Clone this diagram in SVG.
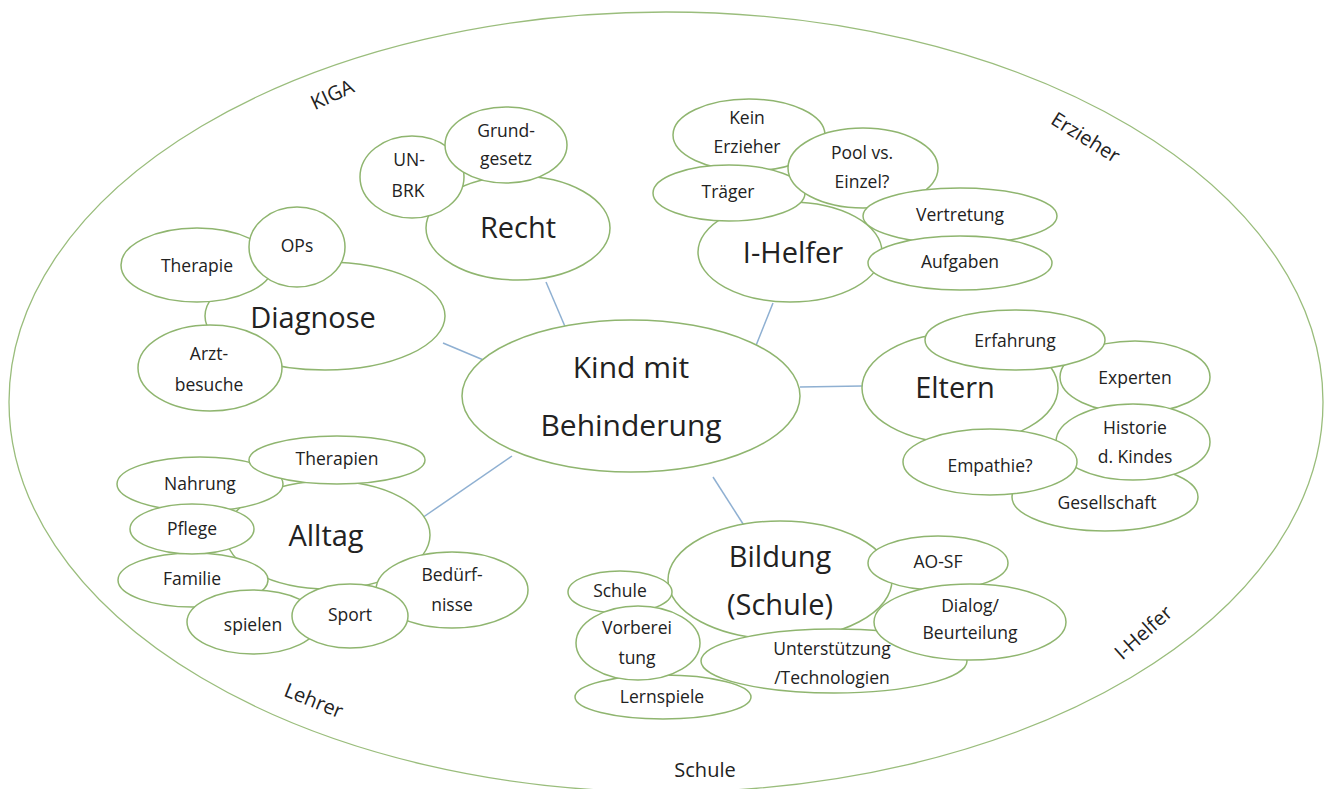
<svg xmlns="http://www.w3.org/2000/svg" width="1331" height="789" viewBox="0 0 1331 789">
<style>
  .n { fill: #ffffff; stroke: #8fb56f; stroke-width: 1.5; }
  .o { fill: none; stroke: #9abd7c; stroke-width: 1.3; }
  .c { stroke: #8fb0d2; stroke-width: 1.5; fill: none; }
  text { font-family: "Open Sans", "Liberation Sans", sans-serif; fill: #222222; text-anchor: middle; dominant-baseline: central; }
  .big { font-size: 29px; }
  .ctr { font-size: 30px; }
  .sm { font-size: 17.5px; }
  .out { font-size: 20px; }
</style>
<rect width="1331" height="789" fill="#ffffff"/>
<ellipse class="o" cx="666" cy="402" rx="657" ry="390"/>
<g id="outer-labels">
  <text class="out" x="332" y="94" transform="rotate(-25 332 94)">KIGA</text>
  <text class="out" x="1086" y="137" transform="rotate(32 1086 137)">Erzieher</text>
  <text class="out" x="1143" y="632" transform="rotate(-42 1143 632)">I-Helfer</text>
  <text class="out" x="314" y="700" transform="rotate(22 314 700)">Lehrer</text>
  <text class="out" x="705" y="769">Schule</text>
</g>
<g id="connectors">
  <line class="c" x1="546" y1="282" x2="578" y2="357"/>
  <line class="c" x1="443" y1="343" x2="512" y2="372"/>
  <line class="c" x1="773" y1="303" x2="751" y2="358"/>
  <line class="c" x1="800" y1="387" x2="862" y2="386"/>
  <line class="c" x1="422" y1="518" x2="512" y2="456"/>
  <line class="c" x1="713" y1="477" x2="745" y2="527"/>
</g>
<g id="center">
  <ellipse class="n" cx="631" cy="396" rx="169" ry="76"/>
  <text class="ctr" x="631" y="366">Kind mit</text>
  <text class="ctr" x="631" y="424">Behinderung</text>
</g>
<g id="recht">
  <ellipse class="n" cx="518" cy="228" rx="92" ry="52"/>
  <text class="big" x="518" y="226">Recht</text>
</g>
<g id="un-brk">
  <ellipse class="n" cx="412" cy="177" rx="52" ry="41"/>
  <text class="sm" x="409" y="159">UN-</text>
  <text class="sm" x="408" y="190">BRK</text>
</g>
<g id="grundgesetz">
  <ellipse class="n" cx="506" cy="145" rx="61" ry="38"/>
  <text class="sm" x="506" y="130">Grund-</text>
  <text class="sm" x="506" y="158">gesetz</text>
</g>
<g id="diagnose">
  <ellipse class="n" cx="325" cy="316" rx="120" ry="54"/>
  <text class="big" x="313" y="316">Diagnose</text>
</g>
<g id="therapie">
  <ellipse class="n" cx="197" cy="265" rx="76" ry="37"/>
  <text class="sm" x="197" y="265">Therapie</text>
</g>
<g id="ops">
  <ellipse class="n" cx="297" cy="247" rx="48" ry="40"/>
  <text class="sm" x="297" y="245">OPs</text>
</g>
<g id="arztbesuche">
  <ellipse class="n" cx="210" cy="368" rx="72" ry="43"/>
  <text class="sm" x="209" y="353">Arzt-</text>
  <text class="sm" x="209" y="384">besuche</text>
</g>
<g id="i-helfer">
  <ellipse class="n" cx="790" cy="252" rx="92" ry="50"/>
  <text class="big" x="793" y="251">I-Helfer</text>
</g>
<g id="kein-erzieher">
  <ellipse class="n" cx="749" cy="135" rx="76" ry="36"/>
  <text class="sm" x="747" y="117">Kein</text>
  <text class="sm" x="747" y="146">Erzieher</text>
</g>
<g id="traeger">
  <ellipse class="n" cx="729" cy="193" rx="76" ry="28"/>
  <text class="sm" x="728" y="191">Träger</text>
</g>
<g id="pool">
  <ellipse class="n" cx="863" cy="168" rx="75" ry="40"/>
  <text class="sm" x="862" y="152">Pool vs.</text>
  <text class="sm" x="862" y="181">Einzel?</text>
</g>
<g id="vertretung">
  <ellipse class="n" cx="960" cy="216" rx="97" ry="28"/>
  <text class="sm" x="960" y="214">Vertretung</text>
</g>
<g id="aufgaben">
  <ellipse class="n" cx="960" cy="263" rx="92" ry="27"/>
  <text class="sm" x="960" y="261">Aufgaben</text>
</g>
<g id="eltern">
  <ellipse class="n" cx="960" cy="388" rx="98" ry="55"/>
  <text class="big" x="955" y="386">Eltern</text>
</g>
<g id="experten">
  <ellipse class="n" cx="1135" cy="377" rx="75" ry="36"/>
  <text class="sm" x="1135" y="377">Experten</text>
</g>
<g id="erfahrung">
  <ellipse class="n" cx="1015" cy="340" rx="90" ry="30"/>
  <text class="sm" x="1015" y="340">Erfahrung</text>
</g>
<g id="gesellschaft">
  <ellipse class="n" cx="1105" cy="497" rx="93" ry="34"/>
  <text class="sm" x="1107" y="502">Gesellschaft</text>
</g>
<g id="historie">
  <ellipse class="n" cx="1133" cy="442" rx="77" ry="38"/>
  <text class="sm" x="1135" y="427">Historie</text>
  <text class="sm" x="1135" y="456">d. Kindes</text>
</g>
<g id="empathie">
  <ellipse class="n" cx="990" cy="462" rx="87" ry="33"/>
  <text class="sm" x="990" y="465">Empathie?</text>
</g>
<g id="alltag">
  <ellipse class="n" cx="328" cy="535" rx="102" ry="54"/>
  <text class="big" x="326" y="534">Alltag</text>
</g>
<g id="nahrung">
  <ellipse class="n" cx="200" cy="484" rx="83" ry="27"/>
  <text class="sm" x="200" y="483">Nahrung</text>
</g>
<g id="therapien">
  <ellipse class="n" cx="337" cy="460" rx="88" ry="24"/>
  <text class="sm" x="337" y="458">Therapien</text>
</g>
<g id="familie">
  <ellipse class="n" cx="193" cy="580" rx="75" ry="27"/>
  <text class="sm" x="192" y="578">Familie</text>
</g>
<g id="pflege">
  <ellipse class="n" cx="192" cy="529" rx="62" ry="25"/>
  <text class="sm" x="192" y="528">Pflege</text>
</g>
<g id="beduerfnisse">
  <ellipse class="n" cx="452" cy="590" rx="76" ry="38"/>
  <text class="sm" x="452" y="574">Bedürf-</text>
  <text class="sm" x="452" y="604">nisse</text>
</g>
<g id="spielen">
  <ellipse class="n" cx="253" cy="622" rx="66" ry="32"/>
  <text class="sm" x="253" y="624">spielen</text>
</g>
<g id="sport">
  <ellipse class="n" cx="350" cy="616" rx="58" ry="32"/>
  <text class="sm" x="350" y="614">Sport</text>
</g>
<g id="bildung">
  <ellipse class="n" cx="780" cy="580" rx="112" ry="59"/>
  <text class="big" x="780" y="555">Bildung</text>
  <text class="big" x="780" y="603">(Schule)</text>
</g>
<g id="ao-sf">
  <ellipse class="n" cx="938" cy="563" rx="70" ry="27"/>
  <text class="sm" x="938" y="561">AO-SF</text>
</g>
<g id="schule">
  <ellipse class="n" cx="620" cy="592" rx="52" ry="21"/>
  <text class="sm" x="620" y="590">Schule</text>
</g>
<g id="lernspiele">
  <ellipse class="n" cx="663" cy="697" rx="88" ry="22"/>
  <text class="sm" x="662" y="696">Lernspiele</text>
</g>
<g id="vorbereitung">
  <ellipse class="n" cx="638" cy="643" rx="62" ry="37"/>
  <text class="sm" x="637" y="627">Vorberei</text>
  <text class="sm" x="637" y="657">tung</text>
</g>
<g id="unterstuetzung">
  <ellipse class="n" cx="834" cy="661" rx="133" ry="32"/>
  <text class="sm" x="832" y="648">Unterstützung</text>
  <text class="sm" x="832" y="677">/Technologien</text>
</g>
<g id="dialog">
  <ellipse class="n" cx="970" cy="622" rx="96" ry="38"/>
  <text class="sm" x="970" y="605">Dialog/</text>
  <text class="sm" x="970" y="632">Beurteilung</text>
</g>
</svg>
